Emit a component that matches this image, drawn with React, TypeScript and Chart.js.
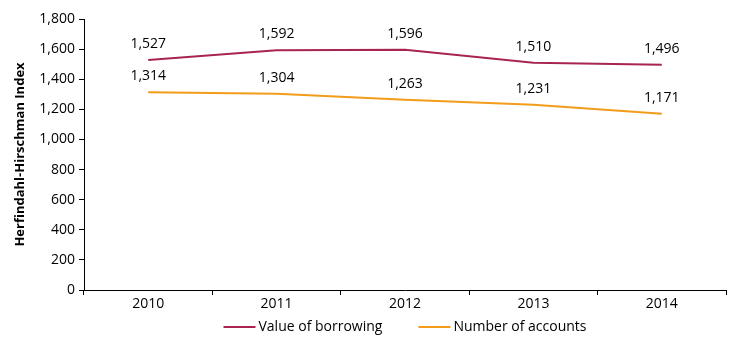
import React, { useEffect, useRef } from "react";
import { Chart, registerables } from "chart.js";

Chart.register(...registerables);

const years = ["2010", "2011", "2012", "2013", "2014"];
const valueOfBorrowing = [1527, 1592, 1596, 1510, 1496];
const numberOfAccounts = [1314, 1304, 1263, 1231, 1171];
const yTitle = "Herfindahl-Hirschman Index";
const FONT = "'Open Sans', 'Noto Sans', sans-serif";

const labelPlugin = {
  id: "pointLabels",
  afterDatasetsDraw(chart: any) {
    const ctx = chart.ctx;
    ctx.save();
    ctx.font = `14px ${FONT}`;
    ctx.fillStyle = "#000";
    ctx.textAlign = "center";
    ctx.textBaseline = "middle";
    chart.data.datasets.forEach((ds: any, i: number) => {
      const meta = chart.getDatasetMeta(i);
      meta.data.forEach((pt: any, j: number) => {
        ctx.fillText(Number(ds.data[j]).toLocaleString("en-US"), pt.x, pt.y - 16);
      });
    });
    ctx.restore();
  },
};

const legendPlugin = {
  id: "customLegend",
  afterDraw(chart: any) {
    const ctx = chart.ctx;
    ctx.save();
    ctx.font = `14px ${FONT}`;
    ctx.textBaseline = "middle";
    ctx.textAlign = "left";
    const lineW = 32;
    const gapText = 3;
    const gapItem = 36;
    const items = chart.data.datasets.map((ds: any) => ({
      label: ds.label,
      color: ds.borderColor,
      w: lineW + gapText + ctx.measureText(ds.label).width,
    }));
    const total = items.reduce((a: number, it: any) => a + it.w, 0) + gapItem * (items.length - 1);
    const ca = chart.chartArea;
    let x = (ca.left + ca.right) / 2 - total / 2;
    const y = 327;
    items.forEach((it: any) => {
      ctx.strokeStyle = it.color;
      ctx.lineWidth = 2;
      ctx.beginPath();
      ctx.moveTo(x, y);
      ctx.lineTo(x + lineW, y);
      ctx.stroke();
      ctx.fillStyle = "#000";
      ctx.fillText(it.label, x + lineW + gapText, y);
      x += it.w + gapItem;
    });
    ctx.restore();
  },
};

export default function App() {
  const ref = useRef<HTMLCanvasElement>(null);
  useEffect(() => {
    if (!ref.current) return;
    const chart = new Chart(ref.current, {
      type: "line",
      data: {
        labels: years,
        datasets: [
          {
            label: "Value of borrowing",
            data: valueOfBorrowing,
            borderColor: "#A7254F",
            backgroundColor: "#A7254F",
            borderWidth: 2,
            pointRadius: 0,
            tension: 0,
          },
          {
            label: "Number of accounts",
            data: numberOfAccounts,
            borderColor: "#F39C1B",
            backgroundColor: "#F39C1B",
            borderWidth: 2,
            pointRadius: 0,
            tension: 0,
          },
        ],
      },
      options: {
        animation: false,
        responsive: false,
        maintainAspectRatio: false,
        layout: { padding: { top: 19, right: 14, bottom: 45, left: 0 } },
        plugins: {
          tooltip: { enabled: false },
          legend: { display: false },
        },
        scales: {
          x: {
            offset: true,
            grid: {
              offset: true,
              drawOnChartArea: false,
              drawTicks: true,
              tickLength: 5,
              color: "#000",
            },
            border: { color: "#000", width: 1 },
            ticks: { color: "#000", font: { family: FONT, size: 14 }, padding: 1 },
            afterFit: (s: any) => {
              s.height = 20;
            },
          },
          y: {
            min: 0,
            max: 1800,
            ticks: {
              stepSize: 200,
              color: "#000",
              font: { family: FONT, size: 14 },
              padding: 4,
              callback: (v: any) => Number(v).toLocaleString("en-US"),
            },
            grid: {
              drawOnChartArea: false,
              drawTicks: true,
              tickLength: 5,
              color: "#000",
            },
            border: { color: "#000", width: 1 },
            title: {
              display: true,
              text: yTitle,
              color: "#000",
              font: { family: FONT, size: 13, weight: "bold" },
              padding: { top: 12, bottom: 0 },
            },
            afterFit: (s: any) => {
              s.width = 84;
            },
          },
        },
      },
      plugins: [labelPlugin, legendPlugin],
    });
    return () => chart.destroy();
  }, []);
  return (
    <div style={{ position: "fixed", left: 0, top: 0, width: 740, height: 355, background: "#fff" }}>
      <canvas ref={ref} width={740} height={355} style={{ width: 740, height: 355 }} />
    </div>
  );
}
